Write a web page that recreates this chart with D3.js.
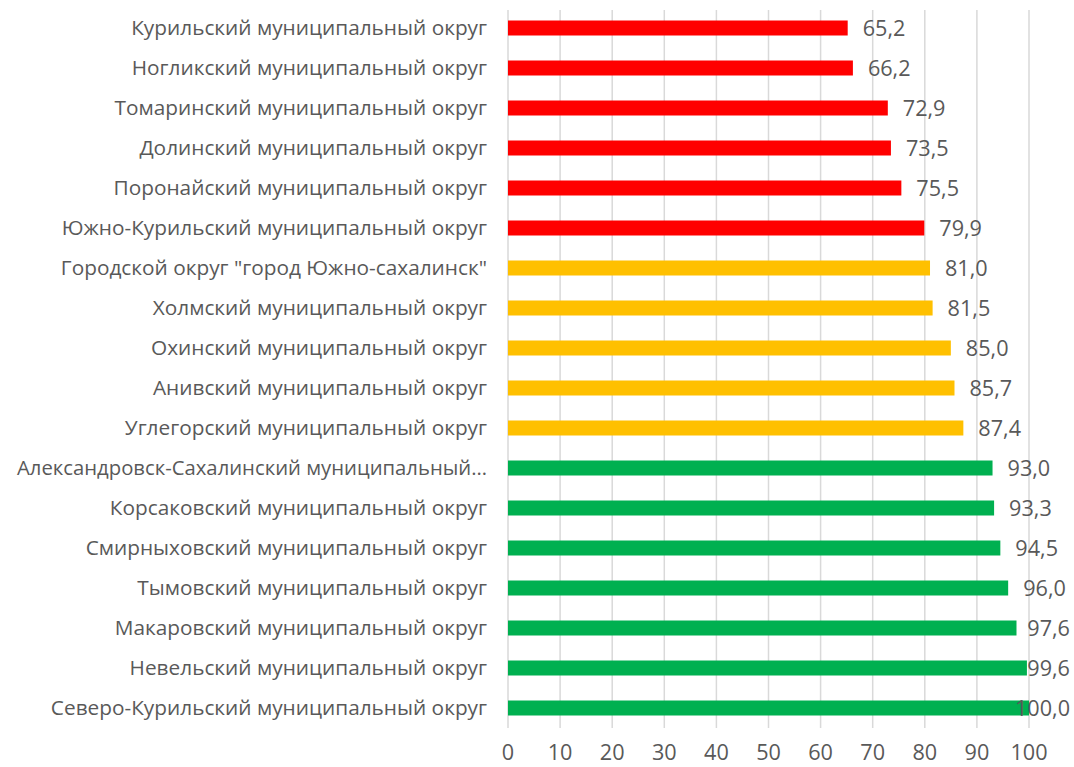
<!DOCTYPE html>
<html><head><meta charset="utf-8">
<script src="https://cdn.jsdelivr.net/npm/d3@7"></script>
<style>body{margin:0;background:#fff}svg{display:block}</style>
</head><body>
<svg id="c" width="1074" height="767"></svg>
<script>
const categories = [
 "Курильский муниципальный округ",
 "Ногликский муниципальный округ",
 "Томаринский муниципальный округ",
 "Долинский муниципальный округ",
 "Поронайский муниципальный округ",
 "Южно-Курильский муниципальный округ",
 "Городской округ \"город Южно-сахалинск\"",
 "Холмский муниципальный округ",
 "Охинский муниципальный округ",
 "Анивский муниципальный округ",
 "Углегорский муниципальный округ",
 "Александровск-Сахалинский муниципальный…",
 "Корсаковский муниципальный округ",
 "Смирныховский муниципальный округ",
 "Тымовский муниципальный округ",
 "Макаровский муниципальный округ",
 "Невельский муниципальный округ",
 "Северо-Курильский муниципальный округ"
];
const values = [65.2,66.2,72.9,73.5,75.5,79.9,81.0,81.5,85.0,85.7,87.4,93.0,93.3,94.5,96.0,97.6,99.6,100.0];
const groups = ["red","red","red","red","red","red","yellow","yellow","yellow","yellow","yellow","green","green","green","green","green","green","green"];
const groupColors = {red:"#FF0000", yellow:"#FFC000", green:"#00B050"};
const xTicks = [0,10,20,30,40,50,60,70,80,90,100];

const svg = d3.select("#c");
const mLeft = 508, mRight = 1029, mTop = 8, mBottom = 728;
const fontFam = "'Open Sans','Noto Sans','DejaVu Sans',sans-serif";
const textColor = "#595959";

const x = d3.scaleLinear().domain([0,100]).range([mLeft,mRight]);
const y = d3.scaleBand().domain(categories).range([mTop,mBottom]).paddingInner(0.625).paddingOuter(0.3125);

// gridlines
svg.append("g").selectAll("line").data(xTicks).join("line")
  .attr("x1",d=>x(d)).attr("x2",d=>x(d)).attr("y1",10).attr("y2",mBottom)
  .attr("stroke","#d9d9d9").attr("stroke-width",1.5);

// bars
svg.append("g").selectAll("rect").data(values).join("rect")
  .attr("x",x(0)).attr("y",(d,i)=>y(categories[i]))
  .attr("width",d=>x(d)-x(0)).attr("height",y.bandwidth())
  .attr("fill",(d,i)=>groupColors[groups[i]]);

// category labels, sized to match reference text width
const cats = svg.append("g").selectAll("text").data(categories).join("text")
  .attr("x",487).attr("y",d=>y(d)+y.bandwidth()/2).attr("dy","0.35em")
  .attr("text-anchor","end").attr("fill",textColor)
  .style("font-family",fontFam).style("font-size","20px").text(d=>d);
const w0 = cats.nodes()[0].getComputedTextLength();
const catSize = 20*356/w0;
cats.style("font-size",catSize+"px");
// keep long truncated label within the left margin as in the reference
cats.each(function(){
  const tw = this.getComputedTextLength();
  if (tw > 470) d3.select(this).attr("textLength",470).attr("lengthAdjust","spacingAndGlyphs");
});

// value labels
const fmt = v => v.toFixed(1).replace(".",",");
const vals = svg.append("g").selectAll("text").data(values).join("text")
  .attr("y",(d,i)=>y(categories[i])+y.bandwidth()/2).attr("dy","0.35em")
  .attr("fill",textColor).style("font-family",fontFam).style("font-size",(catSize*1.04)+"px")
  .text(fmt);
vals.each(function(d){
  const tw = this.getComputedTextLength();
  d3.select(this).attr("x", Math.min(x(d)+15, 1070-tw));
});

// x axis tick labels
svg.append("g").selectAll("text").data(xTicks).join("text")
  .attr("x",d=>x(d)).attr("y",752).attr("dy","0.35em").attr("text-anchor","middle")
  .attr("fill",textColor).style("font-family",fontFam).style("font-size",(catSize*1.04)+"px")
  .text(d=>d);
</script>
</body></html>
